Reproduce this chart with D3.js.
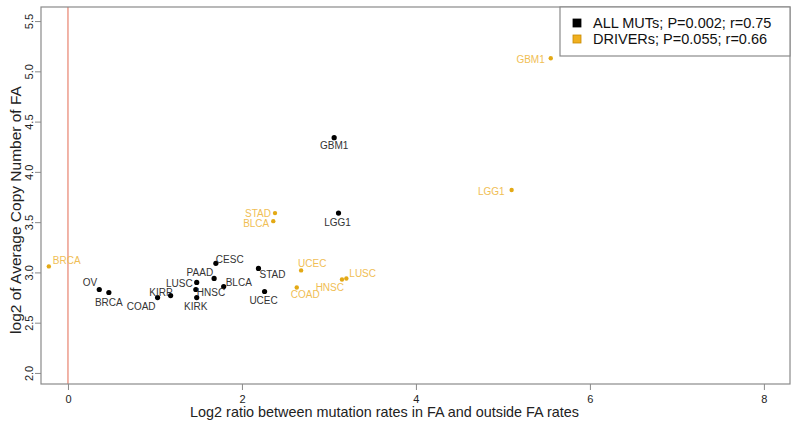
<!DOCTYPE html>
<html lang="en">
<head>
    <meta charset="UTF-8">
    <title>FA copy number vs mutation ratio</title>
    <script src="https://d3js.org/d3.v7.min.js"></script>
    <style>
        body { margin: 0; background: #fff; }
        text { font-family: "Liberation Sans", Arial, sans-serif; }
        .lbl { font-size: 10px; }
    </style>
</head>
<body>
    <div id="chart"></div>
    <script>
        // ALL MUTs (black)
        const allNames = ["OV", "BRCA", "COAD", "KIRP", "LUSC", "HNSC", "KIRK", "PAAD", "CESC", "BLCA", "STAD", "UCEC", "LGG1", "GBM1"];
        const allX = [0.36, 0.47, 1.03, 1.18, 1.48, 1.47, 1.48, 1.68, 1.70, 1.79, 2.19, 2.26, 3.11, 3.06];
        const allY = [2.83, 2.80, 2.75, 2.77, 2.90, 2.83, 2.75, 2.94, 3.09, 2.86, 3.04, 2.81, 3.59, 4.34];

        // DRIVERs (orange)
        const drvNames = ["BRCA", "STAD", "BLCA", "UCEC", "COAD", "HNSC", "LUSC", "LGG1", "GBM1"];
        const drvX = [-0.22, 2.38, 2.36, 2.68, 2.63, 3.15, 3.20, 5.10, 5.55];
        const drvY = [3.06, 3.59, 3.51, 3.02, 2.85, 2.93, 2.94, 3.82, 5.13];

        const xTicks = [0, 2, 4, 6, 8];
        const yTicks = [2.0, 2.5, 3.0, 3.5, 4.0, 4.5, 5.0, 5.5];
        const legendLabels = ["ALL MUTs; P=0.002; r=0.75", "DRIVERs; P=0.055; r=0.66"];

        // label placement: [text-anchor, dx, dy] relative to the point
        const allPlace = {
            OV: ["end", -2, -7], BRCA: ["middle", 0, 10], COAD: ["end", -2, 9], KIRP: ["end", 2, -3],
            LUSC: ["end", -4, 1], HNSC: ["start", 1, 3], KIRK: ["middle", -1, 9], PAAD: ["end", -1, -6],
            CESC: ["start", 0, -4], BLCA: ["start", 2, -4], STAD: ["start", 1, 6], UCEC: ["middle", -1, 9],
            LGG1: ["middle", -1, 9], GBM1: ["middle", 0, 8]
        };
        const drvPlace = {
            BRCA: ["start", 4, -6], STAD: ["end", -4, 0], BLCA: ["end", -4, 2], UCEC: ["start", -3, -7],
            COAD: ["start", -6, 7], HNSC: ["end", 2, 8], LUSC: ["start", 3, -5],
            LGG1: ["end", -7, 2], GBM1: ["end", -6, 1]
        };

        const width = 800, height = 427;
        const pLeft = 41, pRight = 790, pTop = 7, pBottom = 384;

        const svg = d3.select("#chart").append("svg")
            .attr("width", width)
            .attr("height", height);

        const x = d3.scaleLinear().domain([-0.31, 8.3]).range([pLeft, pRight]);
        const y = d3.scaleLinear().domain([1.89, 5.64]).range([pBottom, pTop]);

        // red reference line at x = 0
        svg.append("line")
            .attr("x1", x(0)).attr("x2", x(0))
            .attr("y1", pTop).attr("y2", pBottom)
            .attr("stroke", "#e8826e").attr("stroke-width", 1.2);

        // plot box
        svg.append("rect")
            .attr("x", pLeft).attr("y", pTop)
            .attr("width", pRight - pLeft).attr("height", pBottom - pTop)
            .attr("fill", "none").attr("stroke", "#8a8a8a").attr("stroke-width", 1.2);

        // x axis
        const xAxis = svg.append("g")
            .attr("transform", `translate(0,${pBottom})`)
            .call(d3.axisBottom(x).tickValues(xTicks).tickSize(6).tickFormat(d3.format("d")));
        xAxis.select(".domain").remove();
        xAxis.selectAll("line").attr("stroke", "#8a8a8a");
        xAxis.selectAll("text").attr("font-size", 11).attr("fill", "#222").attr("dy", "0.9em");

        // y axis, labels rotated as in R
        const yAxis = svg.append("g")
            .attr("transform", `translate(${pLeft},0)`)
            .call(d3.axisLeft(y).tickValues(yTicks).tickSize(6).tickFormat(d3.format(".1f")));
        yAxis.select(".domain").remove();
        yAxis.selectAll("line").attr("stroke", "#8a8a8a");
        yAxis.selectAll("text")
            .attr("font-size", 11).attr("fill", "#222")
            .attr("x", 0).attr("dy", 0)
            .attr("text-anchor", "middle")
            .attr("transform", "translate(-8,0) rotate(-90)");

        // axis titles
        svg.append("text")
            .attr("x", (pLeft + pRight) / 2 - 31).attr("y", 417)
            .attr("text-anchor", "middle")
            .attr("font-size", 14.4).attr("fill", "#222")
            .text("Log2 ratio between mutation rates in FA and outside FA rates");
        svg.append("text")
            .attr("transform", `translate(21,210) rotate(-90)`)
            .attr("text-anchor", "middle")
            .attr("font-size", 15.5).attr("fill", "#222")
            .text("log2 of Average Copy Number of FA");

        function drawSeries(names, xs, ys, place, dotColor, textColor, r) {
            const pts = names.map((n, i) => ({ name: n, x: xs[i], y: ys[i] }));
            const g = svg.append("g");
            g.selectAll("circle").data(pts).join("circle")
                .attr("cx", d => x(d.x)).attr("cy", d => y(d.y))
                .attr("r", r).attr("fill", dotColor);
            g.selectAll("text").data(pts).join("text")
                .attr("class", "lbl")
                .attr("x", d => x(d.x) + place[d.name][1])
                .attr("y", d => y(d.y) + place[d.name][2])
                .attr("dy", "0.35em")
                .attr("text-anchor", d => place[d.name][0])
                .attr("fill", textColor)
                .text(d => d.name);
        }

        drawSeries(allNames, allX, allY, allPlace, "#000", "#333", 2.6);
        drawSeries(drvNames, drvX, drvY, drvPlace, "#e3a915", "#f0be55", 2.2);

        // legend
        const lg = svg.append("g");
        lg.append("rect")
            .attr("x", 560).attr("y", pTop)
            .attr("width", pRight - 560).attr("height", 49)
            .attr("fill", "#fff").attr("stroke", "#8a8a8a").attr("stroke-width", 1.2);
        const swatch = [["#000", "#000"], ["#f0b020", "#c98a00"]];
        legendLabels.forEach((t, i) => {
            lg.append("rect")
                .attr("x", 573).attr("y", 19 + i * 16)
                .attr("width", 8).attr("height", 8)
                .attr("fill", swatch[i][0]).attr("stroke", swatch[i][1]).attr("stroke-width", 0.8);
            lg.append("text")
                .attr("x", 593).attr("y", 23 + i * 16)
                .attr("dy", "0.35em")
                .attr("font-size", 14.5).attr("fill", "#111")
                .text(t);
        });
    </script>
</body>
</html>
